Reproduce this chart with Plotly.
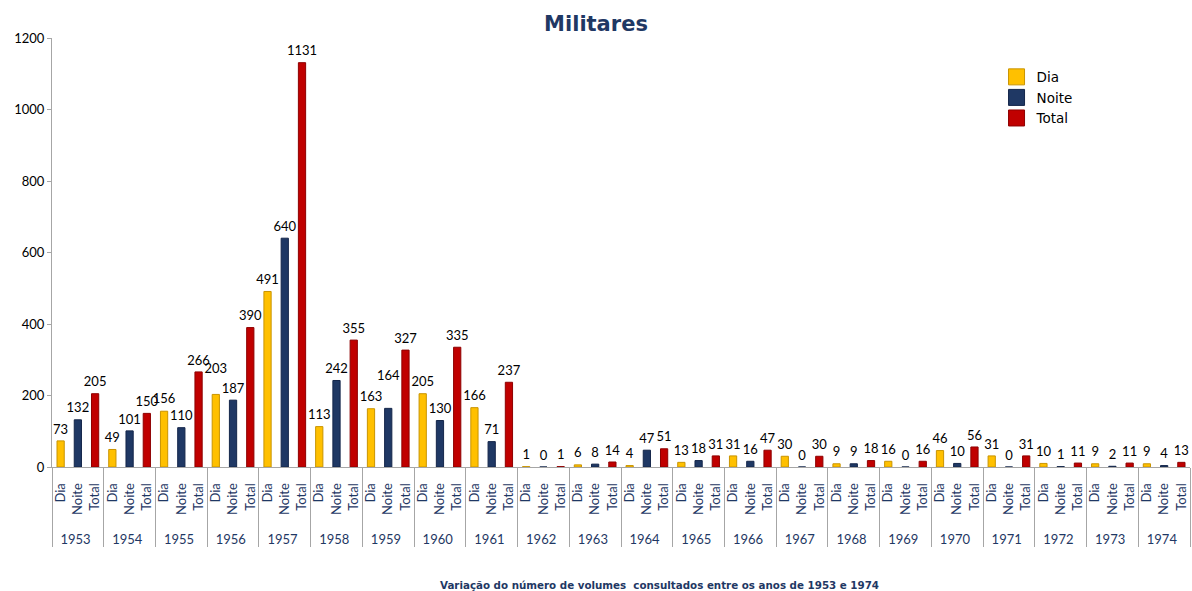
import plotly.graph_objects as go

# Volumes consulted by military readers, per year and shift
years = [str(y) for y in range(1953, 1975)]
dia = [73, 49, 156, 203, 491, 113, 163, 205, 166, 1, 6, 4, 13, 31, 30, 9, 16, 46, 31, 10, 9, 9]
noite = [132, 101, 110, 187, 640, 242, 164, 130, 71, 0, 8, 47, 18, 16, 0, 9, 0, 10, 0, 1, 2, 4]
total = [205, 150, 266, 390, 1131, 355, 327, 335, 237, 1, 14, 51, 31, 47, 30, 18, 16, 56, 31, 11, 11, 13]

series = [("Dia", dia, "#FFC000", "#C99400"),
          ("Noite", noite, "#1F3864", "#14264A"),
          ("Total", total, "#C00000", "#8E0000")]

NAVY = "#1F3864"
NBSP = "\u00a0"
Y_MAX = 1200
PLOT_H = 591 - 38 - 124          # plot height in px
PX_PER_UNIT = PLOT_H / Y_MAX
BASE_SIZE = 5                    # invisible marker that sets the label gap
MIN_SEP = 17                     # px between neighbouring Dia/Noite labels


def cats(name):
    # padded category label pushes the rotated text a little away from the axis
    return [years, [NBSP + name + NBSP * 3] * len(years)]


# lift one of two neighbouring 3-digit labels when they would sit on the same line
label_size = {"Dia": [BASE_SIZE] * len(years), "Noite": [BASE_SIZE] * len(years),
              "Total": [BASE_SIZE] * len(years)}
for i, (d, n) in enumerate(zip(dia, noite)):
    if d >= 100 and n >= 100:
        gap = abs(d - n) * PX_PER_UNIT
        if gap < MIN_SEP:
            higher = "Dia" if d > n else "Noite"
            label_size[higher][i] = BASE_SIZE + 2 * (MIN_SEP - gap)

fig = go.Figure()
for name, vals, color, edge in series:
    fig.add_trace(go.Bar(
        x=cats(name), y=vals, name=name, width=0.42, showlegend=False,
        marker=dict(color=color, line=dict(color=edge, width=1)),
    ))

# value labels sitting just above each bar
for name, vals, color, edge in series:
    fig.add_trace(go.Scatter(
        x=cats(name), y=vals, mode="markers+text", showlegend=False, hoverinfo="skip",
        marker=dict(size=label_size[name], opacity=0),
        text=[str(v) for v in vals], textposition="top center",
        textfont=dict(family="Lato", size=13, color="#000000"),
        cliponaxis=False,
    ))

# legend entries with larger square swatches
for name, vals, color, edge in series:
    fig.add_trace(go.Scatter(
        x=[None], y=[None], mode="markers", name=name, showlegend=True,
        marker=dict(symbol="square", size=16, color=color, line=dict(color=edge, width=1)),
    ))

fig.update_layout(
    width=1192, height=591,
    barmode="overlay",
    plot_bgcolor="white", paper_bgcolor="white",
    margin=dict(l=52, r=2, t=38, b=124),
    title=dict(text="<b>Militares</b>", x=0.5, xanchor="center", y=0.96, yanchor="middle",
               font=dict(family="DejaVu Sans", size=21, color=NAVY)),
    legend=dict(x=0.830, y=0.945, xanchor="left", yanchor="top",
                font=dict(family="DejaVu Sans", size=13.5, color="#000000"),
                bgcolor="rgba(0,0,0,0)", tracegroupgap=0, itemwidth=30, itemsizing="trace"),
    showlegend=True,
    font=dict(family="Lato"),
)

fig.update_yaxes(range=[0, Y_MAX], tickvals=[0, 200, 400, 600, 800, 1000, 1200],
                 showgrid=False, zeroline=False, showline=True, linecolor="#A6A6A6",
                 ticks="outside", ticklen=4, tickcolor="#A6A6A6",
                 tickfont=dict(family="Lato", size=13, color="#000000"))
fig.update_xaxes(type="multicategory", tickangle=-90, showgrid=False,
                 range=[-0.5, 3 * len(years) - 0.5], dtick=1,
                 showline=True, linecolor="#A6A6A6", showdividers=True,
                 dividercolor="#A6A6A6", dividerwidth=1,
                 tickfont=dict(family="Lato", size=13, color=NAVY))

fig.add_annotation(text="<b>Variação do número de volumes  consultados entre os anos de 1953 e 1974</b>",
                   xref="paper", yref="paper", x=0.534, y=-0.275, xanchor="center", yanchor="middle",
                   showarrow=False, font=dict(family="DejaVu Sans", size=10.3, color=NAVY))

fig.write_html("out.html")
